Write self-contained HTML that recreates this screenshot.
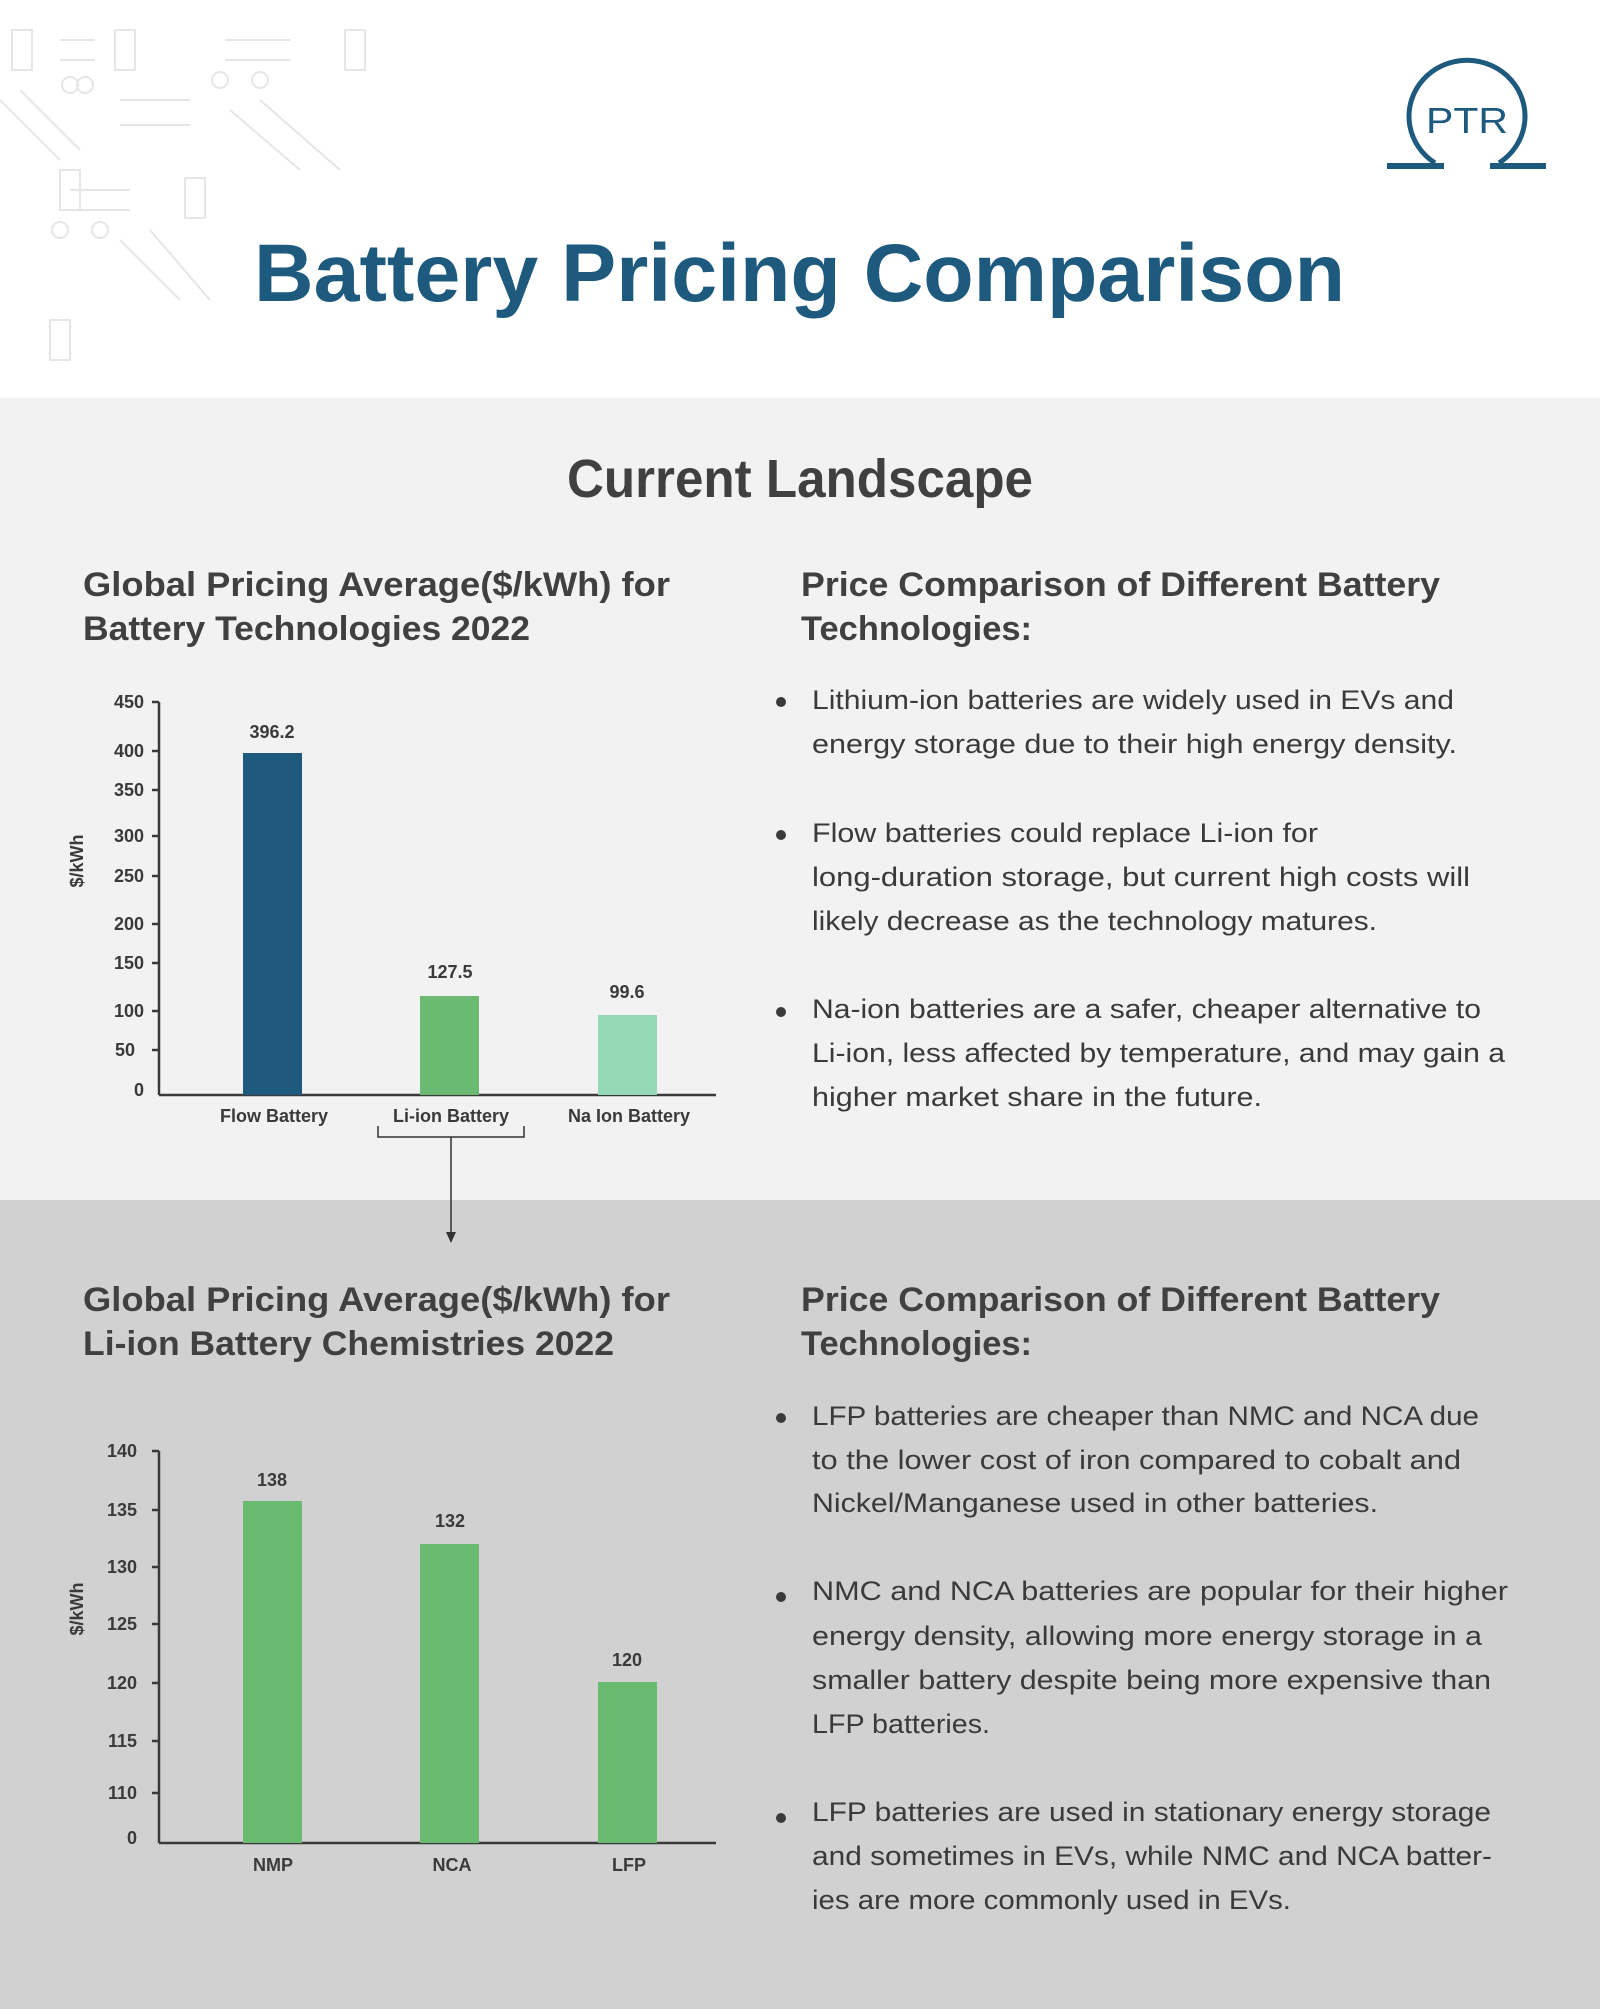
<!DOCTYPE html>
<html><head><meta charset="utf-8"><style>
html,body{margin:0;padding:0;background:#fff;}
svg{display:block;}
text{font-family:"Liberation Sans",sans-serif;}
.h{font-weight:bold;fill:#404040;font-size:34px;}
.b{fill:#3a3a3a;font-size:27px;}
.t{font-weight:bold;fill:#3a3a3a;font-size:18px;}
</style></head><body>
<svg width="1600" height="2009" viewBox="0 0 1600 2009" xmlns="http://www.w3.org/2000/svg">
<rect x="0" y="0" width="1600" height="398" fill="#fff"/>
<g stroke="#e6e6e6" stroke-width="2" fill="none">
<rect x="12" y="30" width="20" height="40"/><rect x="115" y="30" width="20" height="40"/><rect x="185" y="178" width="20" height="40"/><rect x="345" y="30" width="20" height="40"/><rect x="60" y="170" width="20" height="40"/><rect x="50" y="320" width="20" height="40"/>
<line x1="60" y1="40" x2="95" y2="40"/><line x1="60" y1="60" x2="95" y2="60"/><line x1="225" y1="40" x2="290" y2="40"/><line x1="225" y1="60" x2="290" y2="60"/><line x1="70" y1="190" x2="130" y2="190"/><line x1="70" y1="210" x2="130" y2="210"/>
<line x1="0" y1="100" x2="60" y2="160"/><line x1="20" y1="90" x2="80" y2="150"/><line x1="230" y1="110" x2="300" y2="170"/><line x1="260" y1="100" x2="340" y2="170"/><line x1="150" y1="230" x2="210" y2="300"/><line x1="120" y1="240" x2="180" y2="300"/>
<circle cx="70" cy="85" r="8"/><circle cx="85" cy="85" r="8"/><circle cx="220" cy="80" r="8"/><circle cx="260" cy="80" r="8"/><circle cx="60" cy="230" r="8"/><circle cx="100" cy="230" r="8"/>
<line x1="120" y1="100" x2="190" y2="100"/><line x1="120" y1="125" x2="190" y2="125"/>
</g>
<!-- logo -->
<path d="M1435,163 A58,56 0 1 1 1499,163" fill="none" stroke="#1d5a7e" stroke-width="5"/>
<rect x="1387" y="163" width="57" height="6" fill="#1d5a7e"/>
<rect x="1490" y="163" width="56" height="6" fill="#1d5a7e"/>
<text x="1467" y="133" text-anchor="middle" font-size="36" fill="#1d5a7e" textLength="82" lengthAdjust="spacingAndGlyphs">PTR</text>
<text x="254" y="301" font-size="82" font-weight="bold" fill="#1d5a7e" textLength="1091" lengthAdjust="spacingAndGlyphs">Battery Pricing Comparison</text>
<rect x="0" y="398" width="1600" height="802" fill="#f2f2f2"/>
<rect x="0" y="1200" width="1600" height="809" fill="#d1d1d1"/>
<text x="567" y="497" font-size="54" font-weight="bold" fill="#404040" textLength="466" lengthAdjust="spacingAndGlyphs">Current Landscape</text>
<text class="h" x="83" y="596" textLength="587" lengthAdjust="spacingAndGlyphs">Global Pricing Average($/kWh) for</text>
<text class="h" x="83" y="640" textLength="447" lengthAdjust="spacingAndGlyphs">Battery Technologies 2022</text>
<text class="h" x="801" y="596" textLength="639" lengthAdjust="spacingAndGlyphs">Price Comparison of Different Battery</text>
<text class="h" x="801" y="640" textLength="231" lengthAdjust="spacingAndGlyphs">Technologies:</text>
<g fill="#3a3a3a"><circle cx="781" cy="702" r="5"/><circle cx="781" cy="835" r="5"/><circle cx="781" cy="1012" r="5"/><circle cx="781" cy="1418" r="5"/><circle cx="781" cy="1597" r="5"/><circle cx="781" cy="1818" r="5"/></g>
<text class="b" x="812" y="709" textLength="642" lengthAdjust="spacingAndGlyphs">Lithium-ion batteries are widely used in EVs and</text>
<text class="b" x="812" y="753" textLength="645" lengthAdjust="spacingAndGlyphs">energy storage due to their high energy density.</text>
<text class="b" x="812" y="842" textLength="506" lengthAdjust="spacingAndGlyphs">Flow batteries could replace Li-ion for</text>
<text class="b" x="812" y="886" textLength="658" lengthAdjust="spacingAndGlyphs">long-duration storage, but current high costs will</text>
<text class="b" x="812" y="930" textLength="565" lengthAdjust="spacingAndGlyphs">likely decrease as the technology matures.</text>
<text class="b" x="812" y="1018" textLength="669" lengthAdjust="spacingAndGlyphs">Na-ion batteries are a safer, cheaper alternative to</text>
<text class="b" x="812" y="1062" textLength="693" lengthAdjust="spacingAndGlyphs">Li-ion, less affected by temperature, and may gain a</text>
<text class="b" x="812" y="1106" textLength="450" lengthAdjust="spacingAndGlyphs">higher market share in the future.</text>
<!-- chart 1 -->
<g stroke="#3a3a3a" stroke-width="2.5"><line x1="159" y1="702" x2="159" y2="1095"/><line x1="159" y1="1095" x2="716" y2="1095"/>
<line x1="152" y1="702" x2="159" y2="702"/><line x1="152" y1="751" x2="159" y2="751"/><line x1="152" y1="790" x2="159" y2="790"/><line x1="152" y1="836" x2="159" y2="836"/><line x1="152" y1="876" x2="159" y2="876"/><line x1="152" y1="924" x2="159" y2="924"/><line x1="152" y1="963" x2="159" y2="963"/><line x1="152" y1="1011" x2="159" y2="1011"/><line x1="152" y1="1050" x2="159" y2="1050"/></g>
<g class="t" text-anchor="end"><text class="t" x="144" y="708">450</text><text class="t" x="144" y="757">400</text><text class="t" x="144" y="796">350</text><text class="t" x="144" y="842">300</text><text class="t" x="144" y="882">250</text><text class="t" x="144" y="930">200</text><text class="t" x="144" y="969">150</text><text class="t" x="144" y="1017">100</text><text class="t" x="135" y="1056">50</text><text class="t" x="144" y="1096">0</text></g>
<text class="t" transform="translate(83,861) rotate(-90)" text-anchor="middle">$/kWh</text>
<rect x="243" y="753" width="59" height="342" fill="#1d5a7e"/>
<rect x="420" y="996" width="59" height="99" fill="#6aba72"/>
<rect x="598" y="1015" width="59" height="80" fill="#93d9b6"/>
<g text-anchor="middle"><text class="t" x="272" y="738">396.2</text><text class="t" x="450" y="978">127.5</text><text class="t" x="627" y="998">99.6</text>
<text class="t" x="274" y="1122">Flow Battery</text><text class="t" x="451" y="1122">Li-ion Battery</text><text class="t" x="629" y="1122">Na Ion Battery</text></g>
<path d="M378,1126 V1137 H524 V1126 M451,1137 V1236" fill="none" stroke="#333" stroke-width="1.5"/>
<path d="M446,1232 L451,1243 L456,1232 Z" fill="#333"/>
<!-- section 2 -->
<text class="h" x="83" y="1311" textLength="587" lengthAdjust="spacingAndGlyphs">Global Pricing Average($/kWh) for</text>
<text class="h" x="83" y="1355" textLength="531" lengthAdjust="spacingAndGlyphs">Li-ion Battery Chemistries 2022</text>
<text class="h" x="801" y="1311" textLength="639" lengthAdjust="spacingAndGlyphs">Price Comparison of Different Battery</text>
<text class="h" x="801" y="1355" textLength="231" lengthAdjust="spacingAndGlyphs">Technologies:</text>
<text class="b" x="812" y="1425" textLength="667" lengthAdjust="spacingAndGlyphs">LFP batteries are cheaper than NMC and NCA due</text>
<text class="b" x="812" y="1469" textLength="649" lengthAdjust="spacingAndGlyphs">to the lower cost of iron compared to cobalt and</text>
<text class="b" x="812" y="1512" textLength="566" lengthAdjust="spacingAndGlyphs">Nickel/Manganese used in other batteries.</text>
<text class="b" x="812" y="1600" textLength="696" lengthAdjust="spacingAndGlyphs">NMC and NCA batteries are popular for their higher</text>
<text class="b" x="812" y="1645" textLength="670" lengthAdjust="spacingAndGlyphs">energy density, allowing more energy storage in a</text>
<text class="b" x="812" y="1689" textLength="679" lengthAdjust="spacingAndGlyphs">smaller battery despite being more expensive than</text>
<text class="b" x="812" y="1733" textLength="178" lengthAdjust="spacingAndGlyphs">LFP batteries.</text>
<text class="b" x="812" y="1821" textLength="679" lengthAdjust="spacingAndGlyphs">LFP batteries are used in stationary energy storage</text>
<text class="b" x="812" y="1865" textLength="680" lengthAdjust="spacingAndGlyphs">and sometimes in EVs, while NMC and NCA batter-</text>
<text class="b" x="812" y="1909" textLength="479" lengthAdjust="spacingAndGlyphs">ies are more commonly used in EVs.</text>
<!-- chart 2 -->
<g stroke="#3a3a3a" stroke-width="2.5"><line x1="159" y1="1451" x2="159" y2="1843"/><line x1="159" y1="1843" x2="716" y2="1843"/>
<line x1="152" y1="1451" x2="159" y2="1451"/><line x1="152" y1="1510" x2="159" y2="1510"/><line x1="152" y1="1567" x2="159" y2="1567"/><line x1="152" y1="1624" x2="159" y2="1624"/><line x1="152" y1="1683" x2="159" y2="1683"/><line x1="152" y1="1741" x2="159" y2="1741"/><line x1="152" y1="1793" x2="159" y2="1793"/></g>
<g text-anchor="end"><text class="t" x="137" y="1457">140</text><text class="t" x="137" y="1516">135</text><text class="t" x="137" y="1573">130</text><text class="t" x="137" y="1630">125</text><text class="t" x="137" y="1689">120</text><text class="t" x="137" y="1747">115</text><text class="t" x="137" y="1799">110</text><text class="t" x="137" y="1844">0</text></g>
<text class="t" transform="translate(83,1609) rotate(-90)" text-anchor="middle">$/kWh</text>
<rect x="243" y="1501" width="59" height="342" fill="#6aba72"/>
<rect x="420" y="1544" width="59" height="299" fill="#6aba72"/>
<rect x="598" y="1682" width="59" height="161" fill="#6aba72"/>
<g text-anchor="middle"><text class="t" x="272" y="1486">138</text><text class="t" x="450" y="1527">132</text><text class="t" x="627" y="1666">120</text>
<text class="t" x="273" y="1871">NMP</text><text class="t" x="452" y="1871">NCA</text><text class="t" x="629" y="1871">LFP</text></g>
</svg>
</body></html>
